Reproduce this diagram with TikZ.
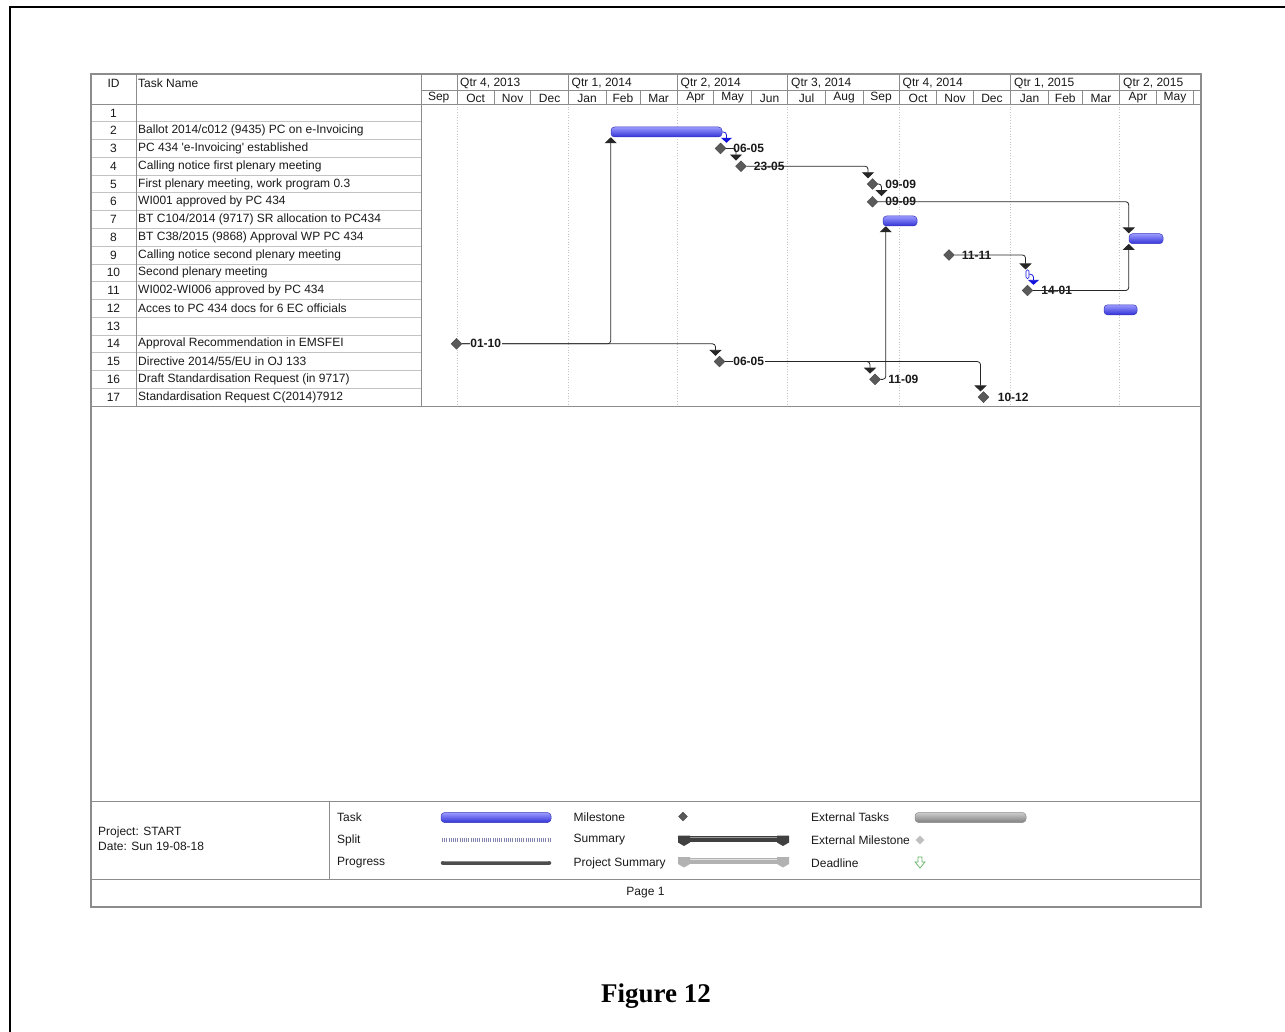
\documentclass[tikz,border=0pt]{standalone}
\usepackage{fontspec}
\setmainfont{Liberation Sans}
\newfontfamily\capfont{Liberation Serif}
\usetikzlibrary{shapes.geometric,arrows.meta}
\definecolor{gridc}{RGB}{195,195,195}
\definecolor{framec}{RGB}{140,140,140}
\definecolor{bartop}{RGB}{155,155,255}
\definecolor{barmid}{RGB}{95,95,250}
\definecolor{barbot}{RGB}{50,50,215}
\definecolor{baredge}{RGB}{55,55,190}
\definecolor{msfill}{RGB}{90,90,90}
\definecolor{dotc}{RGB}{195,195,195}
\definecolor{linkblue}{RGB}{20,20,220}
\definecolor{deadgreen}{RGB}{100,180,100}
\begin{document}
\begin{tikzpicture}[x=1pt,y=-1pt,
  txt/.style={font=\fontsize{12}{14}\selectfont, inner sep=0pt, text=black!90},
  mslab/.style={font=\fontsize{12}{14}\selectfont\bfseries, inner sep=0.5pt, anchor=west, text=black!90},
  tbl/.style={draw=gridc, line width=0.7pt},
  hdr/.style={draw=framec, line width=0.8pt},
  taskbar/.style={rectangle, rounded corners=3.5pt, draw=baredge, line width=0.5pt, top color=bartop, middle color=barmid, bottom color=barbot, inner sep=0pt, minimum height=10pt},
  ms/.style={diamond, aspect=1, minimum size=11pt, inner sep=0pt, fill=msfill, draw=black!75, line width=0.3pt},
  conn/.style={draw=black!85, line width=0.8pt, rounded corners=3pt, -{Triangle[width=12pt,length=6pt]}},
  bconn/.style={draw=linkblue, line width=0.8pt, rounded corners=3pt, -{Triangle[width=11pt,length=5pt]}},
]
\useasboundingbox (0,0) rectangle (1285,1032);
% page border
\draw[line width=2pt] (10,1032) -- (10,6.7) -- (1285,6.7);

% chart dotted quarter lines
\foreach \q in {456.9,568.4,677.4,787.7,899.2,1010.7,1119.8}
  \draw[dotc, dotted, line width=0.7pt] (\q,104) -- (\q,406);

% table grid
\foreach \k in {1,...,16}
  \draw[tbl] (91,{104+\k*17.765}) -- (421,{104+\k*17.765});
\draw[hdr] (136,74) -- (136,406);
\draw[hdr] (421,74) -- (421,406);
\draw[hdr] (91,104) -- (1201,104);
\draw[hdr] (421,90.7) -- (1201,90.7);
\draw[hdr] (91,406) -- (1201,406);
\foreach \q in {456.9,568.4,677.4,787.7,899.2,1010.7,1119.8}
  \draw[hdr] (\q,74) -- (\q,90.7);
\foreach \m in {456.9,494.4,530.8,568.4,605.9,639.9,677.4,713.8,751.4,787.7,825.3,862.9,899.2,936.8,973.2,1010.7,1048.3,1082.3,1119.8,1156.2,1193.8}
  \draw[hdr] (\m,90.7) -- (\m,104);
% legend lines
\draw[hdr] (91,801) -- (1201,801);
\draw[hdr] (91,879) -- (1201,879);
\draw[hdr] (329,801) -- (329,879);
% outer frame
\draw[draw=framec, line width=1.2pt] (91,74) rectangle (1201,907);

% header text
\node[txt] (hid) at (113.5,83) {ID};
\node[txt, anchor=west] (hname) at (138,83) {Task Name};
\node[txt, anchor=west] (q1) at (460,83.5) {Qtr 4, 2013};
\node[txt, anchor=west] (q2) at (571.5,83.5) {Qtr 1, 2014};
\node[txt, anchor=west] (q3) at (680.5,83.5) {Qtr 2, 2014};
\node[txt, anchor=west] (q4) at (791,83.5) {Qtr 3, 2014};
\node[txt, anchor=west] (q5) at (902.5,83.5) {Qtr 4, 2014};
\node[txt, anchor=west] (q6) at (1014,83.5) {Qtr 1, 2015};
\node[txt, anchor=west] (q7) at (1123,83.5) {Qtr 2, 2015};
\foreach \a/\b/\n [count=\c] in {420.5/456.9/Sep,456.9/494.4/Oct,494.4/530.8/Nov,530.8/568.4/Dec,568.4/605.9/Jan,605.9/639.9/Feb,639.9/677.4/Mar,677.4/713.8/Apr,713.8/751.4/May,751.4/787.7/Jun,787.7/825.3/Jul,825.3/862.9/Aug,862.9/899.2/Sep,899.2/936.8/Oct,936.8/973.2/Nov,973.2/1010.7/Dec,1010.7/1048.3/Jan,1048.3/1082.3/Feb,1082.3/1119.8/Mar,1119.8/1156.2/Apr,1156.2/1193.8/May}
  \node[txt] (mo\c) at ({(\a+\b)/2},98) {\n};

% ids
\foreach \i in {1,...,17}
  \node[txt] (id\i) at (113.5,{104+(\i-0.5)*17.765}) {\i};
% task names
\node[txt, anchor=west] (t2) at (138,130.65) {Ballot 2014/c012 (9435) PC on e-Invoicing};
\node[txt, anchor=west] (t3) at (138,148.41) {PC 434 \textquotesingle e-Invoicing\textquotesingle\ established};
\node[txt, anchor=west] (t4) at (138,166.18) {Calling notice first plenary meeting};
\node[txt, anchor=west] (t5) at (138,183.94) {First plenary meeting, work program 0.3};
\node[txt, anchor=west] (t6) at (138,201.71) {WI001 approved by PC 434};
\node[txt, anchor=west] (t7) at (138,219.47) {BT C104/2014 (9717) SR allocation to PC434};
\node[txt, anchor=west] (t8) at (138,237.24) {BT C38/2015 (9868) Approval WP PC 434};
\node[txt, anchor=west] (t9) at (138,255.00) {Calling notice second plenary meeting};
\node[txt, anchor=west] (t10) at (138,272.77) {Second plenary meeting};
\node[txt, anchor=west] (t11) at (138,290.53) {WI002-WI006 approved by PC 434};
\node[txt, anchor=west] (t12) at (138,308.30) {Acces to PC 434 docs for 6 EC officials};
\node[txt, anchor=west] (t14) at (138,343.83) {Approval Recommendation in EMSFEI};
\node[txt, anchor=west] (t15) at (138,361.59) {Directive 2014/55/EU in OJ 133};
\node[txt, anchor=west] (t16) at (138,379.36) {Draft Standardisation Request (in 9717)};
\node[txt, anchor=west] (t17) at (138,397.12) {Standardisation Request C(2014)7912};

% task bars
\node[taskbar, minimum width=111pt] (b2) at (666.5,132) {};
\node[taskbar, minimum width=34pt] (b7) at (900,221) {};
\node[taskbar, minimum width=34pt] (b8) at (1146,238.7) {};
\node[taskbar, minimum width=33pt] (b12) at (1120.5,309.8) {};
\node[rectangle, rounded corners=1.5pt, draw=linkblue, line width=0.6pt, minimum width=3pt, minimum height=9pt, inner sep=0pt] (b10) at (1027.5,274.3) {};

% milestones
\node[ms] (m3) at (720.5,148.41) {};
\node[ms] (m4) at (741,166.18) {};
\node[ms] (m5) at (872.5,183.94) {};
\node[ms] (m6) at (872.5,201.71) {};
\node[ms] (m9) at (949,255.00) {};
\node[ms] (m11) at (1027.5,290.53) {};
\node[ms] (m14) at (456.5,343.83) {};
\node[ms] (m15) at (719.5,361.59) {};
\node[ms] (m16) at (875,379.36) {};
\node[ms] (m17) at (983.5,397.12) {};

% labels crossed by links
\node[mslab] (l4) at ([xshift=6.5pt]m4.east) {23-05};
\node[mslab] (l6) at ([xshift=6.5pt]m6.east) {09-09};
\node[mslab] (l9) at ([xshift=6.5pt]m9.east) {11-11};
\node[mslab] (l11) at ([xshift=7.5pt]m11.east) {14-01};

% links
\draw[conn] (m14) -| (b2.south west);
\draw[conn] (m14) -| ([xshift=-4pt]m15.north);
\draw[bconn] (b2.east) -| ([xshift=6pt]m3.north);
\draw[conn] (m3) -| ([xshift=-5pt]m4.north);
\draw[conn] (m4) -| ([xshift=-4.5pt]m5.north);
\draw[conn] (m5) -| ([xshift=9pt]m6.north);
\draw[conn] (m6) -| (b8.north west);
\draw[conn] (m11) -| (b8.south west);
\draw[conn] (m9) -| ([xshift=-2pt]b10.north);
\draw[bconn] (b10.east) -| ([xshift=6pt]m11.north);
\draw[conn] (m15) -| ([xshift=-5pt]m16.north);
\draw[conn] (m15) -| ([xshift=-3pt]m17.north);
\draw[conn] (m16) -| ([xshift=3pt]b7.south west);

% other labels
\node[mslab] (l3) at ([xshift=6.5pt]m3.east) {06-05};
\node[mslab] (l5) at ([xshift=6.5pt]m5.east) {09-09};
\node[mslab, fill=white] (l14) at ([xshift=7.5pt]m14.east) {01-10};
\node[mslab, fill=white] (l15) at ([xshift=7.5pt]m15.east) {06-05};
\node[mslab] (l16) at ([xshift=7pt]m16.east) {11-09};
\node[mslab] (l17) at ([xshift=8pt]m17.east) {10-12};

% legend
\node[txt, anchor=west] (pj) at (98,832) {Project: START};
\node[txt, anchor=west] (dt) at (98,846) {Date: Sun 19-08-18};
\node[txt, anchor=west] (lg1) at (337,817) {Task};
\node[txt, anchor=west] (lg2) at (337,840) {Split};
\node[txt, anchor=west] (lg3) at (337,863) {Progress};
\node[txt, anchor=west] (lg4) at (573.5,817) {Milestone};
\node[txt, anchor=west] (lg5) at (573.5,840) {Summary};
\node[txt, anchor=west] (lg6) at (573.5,863) {Project Summary};
\node[txt, anchor=west] (lg7) at (811,817) {External Tasks};
\node[txt, anchor=west] (lg8) at (811,840) {External Milestone};
\node[txt, anchor=west] (lg9) at (811,863) {Deadline};
% legend symbols
\node[taskbar, minimum width=110pt] (sy1) at (496,817.5) {};
\draw[line width=4pt, dash pattern=on 0.6pt off 1.6pt, color={rgb,255:red,130;green,130;blue,175}] (442,840) -- (550,840);
\draw[line width=4.5pt, line cap=round, color=black!70] (443,863) -- (549,863);
\draw[line width=1.2pt, line cap=round, color=black!45] (444,861.8) -- (548,861.8);
\node[ms, minimum size=9pt] (sy4) at (683,816.5) {};
\fill[black!75] (678,836) rectangle (789,842);
\draw[black!40, line width=1pt] (684,837.5) -- (783,837.5);
\fill[black!75] (678,835.5) -- (690,835.5) -- (690,842.5) -- (684,846) -- (678,842.5) -- cycle;
\fill[black!75] (777,835.5) -- (789,835.5) -- (789,842.5) -- (783,846) -- (777,842.5) -- cycle;
\fill[black!30] (678,857.5) rectangle (789,863.5);
\draw[black!12, line width=1pt] (684,859) -- (783,859);
\fill[black!30] (678,857) -- (690,857) -- (690,864) -- (684,867.5) -- (678,864) -- cycle;
\fill[black!30] (777,857) -- (789,857) -- (789,864) -- (783,867.5) -- (777,864) -- cycle;
\node[rectangle, rounded corners=3.5pt, draw=black!45, line width=0.5pt, top color=black!20, middle color=black!35, bottom color=black!50, minimum width=111pt, minimum height=10pt, inner sep=0pt] (sy7) at (970.5,817.5) {};
\node[diamond, aspect=1, minimum size=9pt, inner sep=0pt, fill=black!25] (sy8) at (920,840) {};
\draw[deadgreen, line width=0.7pt, fill=white] (918,857) -- (922,857) -- (922,862) -- (925,862) -- (920,868) -- (915,862) -- (918,862) -- cycle;

\node[txt] (pg) at (645.5,893) {Page 1};
\node[font=\capfont\bfseries\fontsize{27}{31}\selectfont, inner sep=0pt] (cap) at (656,996) {Figure 12};
\end{tikzpicture}
\end{document}
